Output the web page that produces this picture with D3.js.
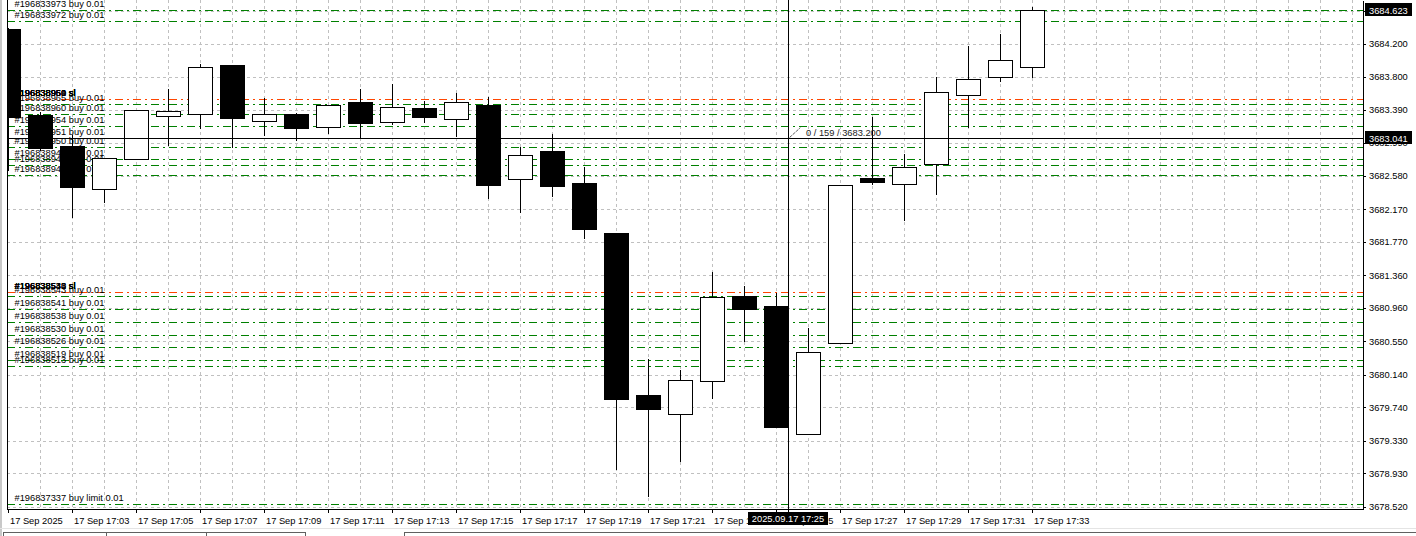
<!DOCTYPE html>
<html><head><meta charset="utf-8">
<script src="https://cdn.jsdelivr.net/npm/d3@7"></script>
<style>
html,body{margin:0;padding:0;background:#fff;overflow:hidden}
svg{display:block}
</style></head><body>
<svg id="c" width="1416" height="536"></svg>
<script>
// ---------- data ----------
const times = ["17:01","17:02","17:03","17:04","17:05","17:06","17:07","17:08","17:09","17:10",
  "17:11","17:12","17:13","17:14","17:15","17:16","17:17","17:18","17:19","17:20",
  "17:21","17:22","17:23","17:24","17:25","17:26","17:27","17:28","17:29","17:30",
  "17:31","17:32","17:33"];
const openP  = [3684.384,3683.328,3682.948,3682.420,3682.788,3683.316,3683.341,3683.942,3683.255,3683.341,
  3683.181,3683.488,3683.242,3683.414,3683.279,3683.451,3682.543,3682.886,3682.493,3681.880,
  3679.891,3679.658,3680.063,3681.106,3680.984,3679.412,3680.529,3682.555,3682.481,3682.727,
  3683.574,3683.795,3683.918];
const highP  = [3684.400,3683.365,3683.083,3682.800,3683.390,3683.647,3683.954,3683.942,3683.537,3683.353,
  3683.451,3683.647,3683.709,3683.500,3683.598,3683.549,3682.935,3683.095,3682.690,3681.880,
  3680.333,3680.198,3681.401,3681.229,3681.143,3680.713,3682.469,3683.304,3682.849,3683.795,
  3684.175,3684.323,3684.654];
const lowP   = [3682.653,3682.899,3682.076,3682.260,3682.788,3682.960,3683.169,3682.935,3683.083,3683.021,
  3683.107,3683.046,3683.218,3683.242,3683.070,3682.309,3682.137,3682.334,3681.818,3678.983,
  3678.651,3679.081,3679.854,3680.554,3679.498,3679.412,3680.529,3682.481,3682.039,3682.358,
  3683.181,3683.746,3683.795];
const closeP = [3683.304,3682.923,3682.444,3682.800,3683.390,3683.377,3683.918,3683.291,3683.341,3683.169,
  3683.451,3683.230,3683.426,3683.304,3683.488,3682.469,3682.837,3682.457,3681.929,3679.842,
  3679.719,3680.075,3681.094,3680.947,3679.498,3680.419,3682.469,3682.506,3682.690,3683.611,
  3683.770,3684.003,3684.623];

const yTicks = [3678.520,3678.930,3679.330,3679.740,3680.140,3680.550,3680.960,3681.360,3681.770,
  3682.170,3682.580,3682.990,3683.390,3683.800,3684.200,3684.610];
const xLabelTimes = ["17:01","17:03","17:05","17:07","17:09","17:11","17:13","17:15","17:17",
  "17:19","17:21","17:23","17:25","17:27","17:29","17:31","17:33"];
const xLabels = ["17 Sep 2025","17 Sep 17:03","17 Sep 17:05","17 Sep 17:07","17 Sep 17:09","17 Sep 17:11",
  "17 Sep 17:13","17 Sep 17:15","17 Sep 17:17","17 Sep 17:19","17 Sep 17:21","17 Sep 17:23",
  "17 Sep 17:25","17 Sep 17:27","17 Sep 17:29","17 Sep 17:31","17 Sep 17:33"];

const buyTickets = ["196833973","196833972","196838965","196838960","196838954","196838951","196838950",
  "196838948","196838945","196838942","196838543","196838541","196838538","196838530","196838526",
  "196838519","196838513"];
const buyPrices = [3684.621,3684.479,3683.469,3683.337,3683.190,3683.042,3682.932,
  3682.792,3682.711,3682.588,3681.106,3680.943,3680.783,3680.624,3680.476,
  3680.317,3680.247];
const limitTickets = ["196837337"];
const limitPrices = [3678.549];
const slPrices = [3683.521, 3681.152];
const slTicketsUpper = ["196838969","196838960","196838954","196838951","196838950"];
const slTicketsLower = ["196838543","196838541","196838538","196838530"];

const lastPrice = 3684.623;
const crossPrice = 3683.041;
const crossSlot = 24.38;
const crossTimeLabel = "2025.09.17 17:25";
const crossInfo = "0 / 159 / 3683.200";
const slotCount = 43;

// ---------- layout ----------
const W = 1416, H = 536;
const L = 7, R = 1363, T = 0, B = 509;
const FONT = "'Liberation Sans', Arial, sans-serif";
const FS = "9.3px";
const GREEN = "#008000", SLC = "#ff4500", GRID = "#c0c0c0";
const DASHDOT = "8,4,2,4";

const svg = d3.select("#c");
const x = d3.scaleLinear().domain([0, slotCount - 1]).range([8, 1352]);
const y = d3.scaleLinear().domain([3678.492, 3684.740]).range([B, T]);
const px = v => Math.round(v) + 0.5;

svg.append("rect").attr("width", W).attr("height", H).attr("fill", "#fff");
svg.append("rect").attr("x", 0).attr("y", 0).attr("width", 2).attr("height", H).attr("fill", "#c8c8c8");

svg.append("defs").append("clipPath").attr("id", "plot")
  .append("rect").attr("x", L).attr("y", T).attr("width", R - L).attr("height", B - T);

const plot = svg.append("g").attr("clip-path", "url(#plot)")
  .attr("shape-rendering", "crispEdges");

// grid
plot.append("g").selectAll("line").data(yTicks).join("line")
  .attr("x1", L).attr("x2", R).attr("y1", d => px(y(d))).attr("y2", d => px(y(d)))
  .attr("stroke", GRID).attr("stroke-dasharray", "3,3");
plot.append("g").selectAll("line").data(d3.range(1, slotCount)).join("line")
  .attr("x1", d => px(x(d))).attr("x2", d => px(x(d))).attr("y1", T).attr("y2", B)
  .attr("stroke", GRID).attr("stroke-dasharray", "3,3");

// order lines
const lines = plot.append("g");
const textG = plot.append("g").attr("font-family", FONT).attr("font-size", FS).attr("fill", "#000")
  .attr("shape-rendering", null);
lines.selectAll("line.buy").data(buyPrices).join("line").attr("class", "buy")
  .attr("x1", L).attr("x2", R).attr("y1", d => px(y(d))).attr("y2", d => px(y(d)))
  .attr("stroke", GREEN).attr("stroke-dasharray", DASHDOT);
lines.selectAll("line.lim").data(limitPrices).join("line").attr("class", "lim")
  .attr("x1", L).attr("x2", R).attr("y1", d => px(y(d))).attr("y2", d => px(y(d)))
  .attr("stroke", GREEN).attr("stroke-dasharray", DASHDOT);
lines.selectAll("line.sl").data(slPrices).join("line").attr("class", "sl")
  .attr("x1", L).attr("x2", R).attr("y1", d => px(y(d))).attr("y2", d => px(y(d)))
  .attr("stroke", SLC).attr("stroke-dasharray", DASHDOT);

textG.selectAll("text.buy").data(buyPrices).join("text").attr("class", "buy")
  .attr("x", 14.5).attr("y", d => Math.round(y(d)) - 3)
  .text((d, i) => "#" + buyTickets[i] + " buy 0.01");
textG.selectAll("text.lim").data(limitPrices).join("text").attr("class", "lim")
  .attr("x", 14.5).attr("y", d => Math.round(y(d)) - 3)
  .text((d, i) => "#" + limitTickets[i] + " buy limit 0.01");
textG.selectAll("text.slu").data(slTicketsUpper).join("text").attr("class", "slu")
  .attr("x", 14.5).attr("y", Math.round(y(slPrices[0])) - 3)
  .text(d => "#" + d + " sl");
textG.selectAll("text.sll").data(slTicketsLower).join("text").attr("class", "sll")
  .attr("x", 14.5).attr("y", Math.round(y(slPrices[1])) - 3)
  .text(d => "#" + d + " sl");

// candles
const cg = plot.append("g");
const idx = d3.range(times.length);
cg.selectAll("line.wick").data(idx).join("line").attr("class", "wick")
  .attr("x1", i => px(x(i))).attr("x2", i => px(x(i)))
  .attr("y1", i => Math.round(y(highP[i]))).attr("y2", i => Math.round(y(lowP[i])) + 1)
  .attr("stroke", "#000");
cg.selectAll("rect.body").data(idx).join("rect").attr("class", "body")
  .attr("x", i => Math.round(x(i)) - 12 + 0.5)
  .attr("width", 24)
  .attr("y", i => px(y(Math.max(openP[i], closeP[i]))))
  .attr("height", i => Math.max(1, Math.round(y(Math.min(openP[i], closeP[i]))) - Math.round(y(Math.max(openP[i], closeP[i])))))
  .attr("fill", i => closeP[i] >= openP[i] ? "#fff" : "#000")
  .attr("stroke", "#000");

// crosshair
const cx = px(x(crossSlot)), cyy = px(y(crossPrice));
svg.append("line").attr("x1", cx).attr("x2", cx).attr("y1", T).attr("y2", B + 3)
  .attr("stroke", "#000").attr("shape-rendering", "crispEdges");
svg.append("line").attr("x1", L).attr("x2", R).attr("y1", cyy).attr("y2", cyy)
  .attr("stroke", "#000").attr("shape-rendering", "crispEdges");
svg.append("line").attr("x1", cx).attr("y1", cyy).attr("x2", cx + 12).attr("y2", cyy - 11)
  .attr("stroke", "#000").attr("stroke-dasharray", "1,1");
svg.append("text").attr("x", cx + 17.5).attr("y", cyy - 3).attr("font-family", FONT).attr("font-size", FS)
  .attr("fill", "#222").text(crossInfo);

// frame
svg.append("line").attr("x1", px(L)).attr("x2", px(L)).attr("y1", T).attr("y2", B)
  .attr("stroke", "#000").attr("shape-rendering", "crispEdges");

// right axis
const ya = svg.append("g").attr("transform", `translate(${R},0)`)
  .call(d3.axisRight(y).tickValues(yTicks).tickSize(3).tickPadding(3).tickSizeOuter(0)
    .tickFormat(d => d.toFixed(3)));
ya.attr("font-family", FONT).attr("font-size", FS).attr("shape-rendering", "crispEdges");
ya.selectAll("text").attr("fill", "#000").attr("shape-rendering", null);
ya.select(".domain").attr("stroke", "#000");

// bottom axis
const tickIdx = xLabelTimes.map(t => times.indexOf(t));
const xa = svg.append("g").attr("transform", `translate(0,${B})`)
  .call(d3.axisBottom(x).tickValues(tickIdx).tickSize(4).tickPadding(4)
    .tickFormat((d, i) => xLabels[i]));
xa.attr("font-family", FONT).attr("font-size", FS).attr("shape-rendering", "crispEdges");
xa.select(".domain").remove();
xa.selectAll("text").attr("text-anchor", "start").attr("x", 1.5).attr("fill", "#000");
svg.append("line").attr("x1", L).attr("x2", R + 1).attr("y1", B + 0.5).attr("y2", B + 0.5)
  .attr("stroke", "#000").attr("shape-rendering", "crispEdges");

// price boxes
function priceBox(p) {
  const yy = Math.round(y(p));
  svg.append("rect").attr("x", R + 2).attr("y", yy - 7).attr("width", 47).attr("height", 13)
    .attr("fill", "#000");
  svg.append("text").attr("x", R + 6).attr("y", yy + 3.5).attr("font-family", FONT).attr("font-size", FS)
    .attr("fill", "#fff").text(p.toFixed(3));
}
priceBox(lastPrice);
priceBox(crossPrice);

// time box
const tbw = 80;
svg.append("rect").attr("x", Math.round(x(crossSlot)) - 40).attr("y", B + 3).attr("width", tbw).attr("height", 13)
  .attr("fill", "#000");
svg.append("text").attr("x", Math.round(x(crossSlot))).attr("y", B + 13).attr("text-anchor", "middle")
  .attr("font-family", FONT).attr("font-size", FS).attr("fill", "#fff").text(crossTimeLabel);

// bottom tab bar
const tb = svg.append("g").attr("stroke", "#606060").attr("fill", "none").attr("shape-rendering", "crispEdges");
tb.append("path").attr("d", "M3.5,540 V532.5 H305.5 V540");
tb.append("path").attr("d", "M106.5,532.5 V540 M206.5,532.5 V540");
tb.append("path").attr("d", "M404.5,540 V532.5 H1416");
svg.append("line").attr("x1", 0).attr("x2", W).attr("y1", 528.5).attr("y2", 528.5)
  .attr("stroke", "#e4e4e4").attr("shape-rendering", "crispEdges");
</script>
</body></html>
